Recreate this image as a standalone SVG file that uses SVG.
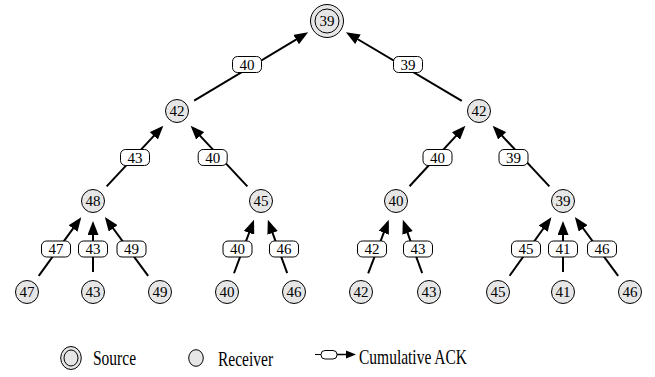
<svg xmlns="http://www.w3.org/2000/svg" width="655" height="377" viewBox="0 0 655 377">
<style>
.n{fill:#e6e6e6;stroke:#000;stroke-width:1}
.t{font-family:'Liberation Serif','Times New Roman',Times,serif;font-size:15px;text-anchor:middle;fill:#000}
.lt{font-family:'Liberation Serif','Times New Roman',Times,serif;font-size:15.5px;fill:#000}
.lb{fill:#fff;stroke:#000;stroke-width:1}
.e{stroke:#000;stroke-width:2;fill:none;marker-end:url(#ah)}
</style>
<defs>
<marker id="ah" markerUnits="userSpaceOnUse" markerWidth="14" markerHeight="11" refX="11" refY="5.5" orient="auto">
<path d="M0,0 L14,5.5 L0,11 z" fill="#000"/>
</marker>
</defs>
<rect width="655" height="377" fill="#fff"/>
<g id="connectors">
<line class="e" x1="194.15" y1="100.71" x2="305.56" y2="33.86"/>
<line class="e" x1="461.79" y1="100.81" x2="348.51" y2="33.74"/>
<line class="e" x1="106.65" y1="186.38" x2="161.31" y2="127.82"/>
<line class="e" x1="247.35" y1="186.38" x2="192.69" y2="127.82"/>
<line class="e" x1="409.56" y1="186.30" x2="463.41" y2="127.91"/>
<line class="e" x1="549.35" y1="186.38" x2="494.69" y2="127.82"/>
<line class="e" x1="38.74" y1="275.81" x2="79.50" y2="219.62"/>
<line class="e" x1="93" y1="272" x2="93" y2="224"/>
<line class="e" x1="148.14" y1="275.89" x2="106.64" y2="219.52"/>
<line class="e" x1="234" y1="273.26" x2="252.95" y2="222.55"/>
<line class="e" x1="287.18" y1="273.20" x2="268.84" y2="222.62"/>
<line class="e" x1="368.18" y1="273.33" x2="387.74" y2="222.47"/>
<line class="e" x1="422.18" y1="273.20" x2="403.84" y2="222.62"/>
<line class="e" x1="509.62" y1="275.73" x2="549.63" y2="219.72"/>
<line class="e" x1="563" y1="272" x2="563" y2="224"/>
<line class="e" x1="618.14" y1="275.89" x2="576.64" y2="219.52"/>
<g id="labels">
<rect class="lb" x="232.5" y="56.5" width="29" height="16" rx="5"/><text class="t" x="247" y="69.5">40</text>
<rect class="lb" x="393.5" y="56.5" width="29" height="16" rx="5"/><text class="t" x="408" y="69.5">39</text>
<rect class="lb" x="120.5" y="149.5" width="29" height="16" rx="5"/><text class="t" x="135" y="162.5">43</text>
<rect class="lb" x="198.2" y="149.5" width="29" height="16" rx="5"/><text class="t" x="212.7" y="162.5">40</text>
<rect class="lb" x="423" y="149.5" width="29" height="16" rx="5"/><text class="t" x="437.5" y="162.5">40</text>
<rect class="lb" x="499" y="149.5" width="29" height="16" rx="5"/><text class="t" x="513.5" y="162.5">39</text>
<rect class="lb" x="41.5" y="241" width="29" height="16" rx="5"/><text class="t" x="56" y="254">47</text>
<rect class="lb" x="78.5" y="241" width="29" height="16" rx="5"/><text class="t" x="93" y="254">43</text>
<rect class="lb" x="117" y="241" width="29" height="16" rx="5"/><text class="t" x="131.5" y="254">49</text>
<rect class="lb" x="223" y="241" width="29" height="16" rx="5"/><text class="t" x="237.5" y="254">40</text>
<rect class="lb" x="269.5" y="241" width="29" height="16" rx="5"/><text class="t" x="284" y="254">46</text>
<rect class="lb" x="357.5" y="241" width="29" height="16" rx="5"/><text class="t" x="372" y="254">42</text>
<rect class="lb" x="403.5" y="241" width="29" height="16" rx="5"/><text class="t" x="418" y="254">43</text>
<rect class="lb" x="511.5" y="241" width="29" height="16" rx="5"/><text class="t" x="526" y="254">45</text>
<rect class="lb" x="548.5" y="241" width="29" height="16" rx="5"/><text class="t" x="563" y="254">41</text>
<rect class="lb" x="587.5" y="241" width="29" height="16" rx="5"/><text class="t" x="602" y="254">46</text>
</g>
</g>
<g id="root"><circle class="n" cx="327" cy="21" r="16.5"/><circle class="n" cx="327" cy="21" r="12"/><text class="t" x="327" y="26">39</text></g>
<g id="nA"><circle class="n" cx="177" cy="111" r="11.5"/><text class="t" x="177" y="116">42</text></g>
<g id="nB"><circle class="n" cx="479" cy="111" r="11.5"/><text class="t" x="479" y="116">42</text></g>
<g id="nC"><circle class="n" cx="93" cy="201" r="11.5"/><text class="t" x="93" y="206">48</text></g>
<g id="nD"><circle class="n" cx="261" cy="201" r="11.5"/><text class="t" x="261" y="206">45</text></g>
<g id="nE"><circle class="n" cx="396" cy="201" r="11.5"/><text class="t" x="396" y="206">40</text></g>
<g id="nF"><circle class="n" cx="563" cy="201" r="11.5"/><text class="t" x="563" y="206">39</text></g>
<g id="l1"><circle class="n" cx="27" cy="292" r="11.5"/><text class="t" x="27" y="297">47</text></g>
<g id="l2"><circle class="n" cx="93" cy="292" r="11.5"/><text class="t" x="93" y="297">43</text></g>
<g id="l3"><circle class="n" cx="160" cy="292" r="11.5"/><text class="t" x="160" y="297">49</text></g>
<g id="l4"><circle class="n" cx="227" cy="292" r="11.5"/><text class="t" x="227" y="297">40</text></g>
<g id="l5"><circle class="n" cx="294" cy="292" r="11.5"/><text class="t" x="294" y="297">46</text></g>
<g id="l6"><circle class="n" cx="361" cy="292" r="11.5"/><text class="t" x="361" y="297">42</text></g>
<g id="l7"><circle class="n" cx="429" cy="292" r="11.5"/><text class="t" x="429" y="297">43</text></g>
<g id="l8"><circle class="n" cx="498" cy="292" r="11.5"/><text class="t" x="498" y="297">45</text></g>
<g id="l9"><circle class="n" cx="563" cy="292" r="11.5"/><text class="t" x="563" y="297">41</text></g>
<g id="l10"><circle class="n" cx="630" cy="292" r="11.5"/><text class="t" x="630" y="297">46</text></g>
<g id="legend">
<ellipse class="n" cx="71" cy="358" rx="10.3" ry="11.5" stroke-width="1.3"/><ellipse class="n" cx="71" cy="358" rx="7" ry="8"/>
<text class="lt" transform="translate(93,365) scale(1,1.35)">Source</text>
<ellipse class="n" cx="196" cy="358" rx="7.3" ry="8.3"/>
<text class="lt" transform="translate(218,365.5) scale(1,1.35)">Receiver</text>
<line x1="315" y1="354.5" x2="321" y2="354.5" stroke="#000" stroke-width="1"/>
<rect x="321" y="350.5" width="16" height="8.5" rx="4" fill="#fff" stroke="#000" stroke-width="1"/>
<line x1="337" y1="354.5" x2="348" y2="354.5" stroke="#000" stroke-width="1.5"/>
<path d="M346,350.5 L356,354.5 L346,358.5 z" fill="#000"/>
<text class="lt" transform="translate(359,364) scale(1,1.35)">Cumulative ACK</text>
</g>
</svg>
